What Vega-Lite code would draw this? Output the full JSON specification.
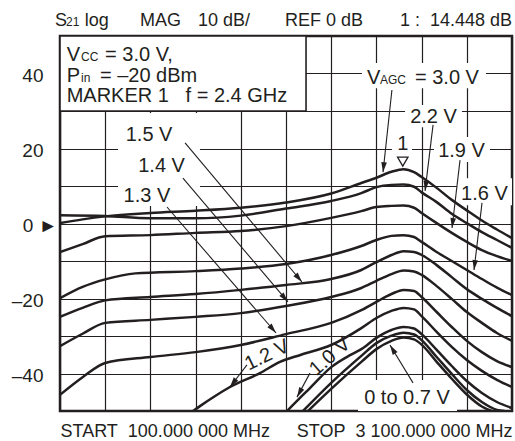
{
  "$schema": "https://vega.github.io/schema/vega-lite/v6.json",
  "width": 452,
  "height": 375,
  "autosize": {"type": "none"},
  "padding": {"left": 60, "top": 36, "right": 3, "bottom": 30},
  "background": "white",
  "config": {
    "font": "Liberation Sans",
    "view": {"stroke": "#231f20", "strokeWidth": 2.5},
    "axis": {"gridColor": "#231f20", "gridWidth": 1.2, "gridOpacity": 1, "labelColor": "#231f20", "domain": false, "ticks": false, "title": null}
  },
  "datasets": {
    "curves": [
      {"v":"3.0 V","f":100,"db":0.1},{"v":"3.0 V","f":250,"db":1.1},{"v":"3.0 V","f":400,"db":1.9},{"v":"3.0 V","f":700,"db":2.8},{"v":"3.0 V","f":1000,"db":3.4},{"v":"3.0 V","f":1300,"db":4.2},{"v":"3.0 V","f":1600,"db":5.6},{"v":"3.0 V","f":1900,"db":8.0},{"v":"3.0 V","f":2100,"db":10.8},{"v":"3.0 V","f":2200,"db":12.2},{"v":"3.0 V","f":2300,"db":13.8},{"v":"3.0 V","f":2380,"db":14.5},{"v":"3.0 V","f":2450,"db":13.7},{"v":"3.0 V","f":2500,"db":12.4},{"v":"3.0 V","f":2600,"db":9.5},{"v":"3.0 V","f":2700,"db":6.3},{"v":"3.0 V","f":2800,"db":3.5},{"v":"3.0 V","f":2900,"db":0.8},{"v":"3.0 V","f":3000,"db":-1.6},{"v":"3.0 V","f":3100,"db":-3.9},
      {"v":"2.2 V","f":100,"db":2.2},{"v":"2.2 V","f":400,"db":2.0},{"v":"2.2 V","f":700,"db":1.4},{"v":"2.2 V","f":1000,"db":1.4},{"v":"2.2 V","f":1300,"db":2.1},{"v":"2.2 V","f":1600,"db":4.0},{"v":"2.2 V","f":1900,"db":6.0},{"v":"2.2 V","f":2100,"db":8.1},{"v":"2.2 V","f":2200,"db":9.7},{"v":"2.2 V","f":2300,"db":10.3},{"v":"2.2 V","f":2380,"db":10.4},{"v":"2.2 V","f":2450,"db":9.8},{"v":"2.2 V","f":2500,"db":8.3},{"v":"2.2 V","f":2600,"db":5.7},{"v":"2.2 V","f":2700,"db":2.6},{"v":"2.2 V","f":2800,"db":0.1},{"v":"2.2 V","f":2900,"db":-2.3},{"v":"2.2 V","f":3000,"db":-4.4},{"v":"2.2 V","f":3100,"db":-6.5},
      {"v":"1.9 V","f":100,"db":-7.6},{"v":"1.9 V","f":250,"db":-5.5},{"v":"1.9 V","f":400,"db":-3.4},{"v":"1.9 V","f":700,"db":-3.1},{"v":"1.9 V","f":1000,"db":-2.5},{"v":"1.9 V","f":1300,"db":-2.0},{"v":"1.9 V","f":1600,"db":-0.7},{"v":"1.9 V","f":1900,"db":1.5},{"v":"1.9 V","f":2100,"db":3.3},{"v":"1.9 V","f":2200,"db":4.4},{"v":"1.9 V","f":2300,"db":4.7},{"v":"1.9 V","f":2380,"db":4.8},{"v":"1.9 V","f":2450,"db":4.2},{"v":"1.9 V","f":2500,"db":2.8},{"v":"1.9 V","f":2600,"db":0.1},{"v":"1.9 V","f":2700,"db":-2.5},{"v":"1.9 V","f":2800,"db":-4.9},{"v":"1.9 V","f":2900,"db":-7.1},{"v":"1.9 V","f":3000,"db":-8.7},{"v":"1.9 V","f":3100,"db":-10.0},
      {"v":"1.6 V","f":100,"db":-19.9},{"v":"1.6 V","f":250,"db":-16.9},{"v":"1.6 V","f":400,"db":-14.9},{"v":"1.6 V","f":600,"db":-13.3},{"v":"1.6 V","f":1000,"db":-12.7},{"v":"1.6 V","f":1300,"db":-12.0},{"v":"1.6 V","f":1600,"db":-10.8},{"v":"1.6 V","f":1900,"db":-8.4},{"v":"1.6 V","f":2100,"db":-6.0},{"v":"1.6 V","f":2200,"db":-4.4},{"v":"1.6 V","f":2300,"db":-3.3},{"v":"1.6 V","f":2380,"db":-3.1},{"v":"1.6 V","f":2450,"db":-3.6},{"v":"1.6 V","f":2500,"db":-4.9},{"v":"1.6 V","f":2600,"db":-7.6},{"v":"1.6 V","f":2700,"db":-10.0},{"v":"1.6 V","f":2800,"db":-12.4},{"v":"1.6 V","f":2900,"db":-14.8},{"v":"1.6 V","f":3000,"db":-17.1},{"v":"1.6 V","f":3100,"db":-19.1},
      {"v":"1.5 V","f":100,"db":-24.9},{"v":"1.5 V","f":250,"db":-22.5},{"v":"1.5 V","f":400,"db":-20.5},{"v":"1.5 V","f":700,"db":-19.6},{"v":"1.5 V","f":1000,"db":-18.8},{"v":"1.5 V","f":1300,"db":-17.7},{"v":"1.5 V","f":1600,"db":-16.4},{"v":"1.5 V","f":1900,"db":-14.8},{"v":"1.5 V","f":2100,"db":-12.4},{"v":"1.5 V","f":2200,"db":-10.3},{"v":"1.5 V","f":2300,"db":-8.4},{"v":"1.5 V","f":2380,"db":-7.4},{"v":"1.5 V","f":2450,"db":-7.6},{"v":"1.5 V","f":2500,"db":-8.4},{"v":"1.5 V","f":2600,"db":-11.1},{"v":"1.5 V","f":2700,"db":-14.3},{"v":"1.5 V","f":2800,"db":-17.5},{"v":"1.5 V","f":2900,"db":-20.1},{"v":"1.5 V","f":3000,"db":-22.5},{"v":"1.5 V","f":3100,"db":-24.7},
      {"v":"1.4 V","f":100,"db":-32.7},{"v":"1.4 V","f":250,"db":-29.4},{"v":"1.4 V","f":400,"db":-26.5},{"v":"1.4 V","f":700,"db":-25.7},{"v":"1.4 V","f":1000,"db":-24.9},{"v":"1.4 V","f":1300,"db":-23.9},{"v":"1.4 V","f":1600,"db":-22.0},{"v":"1.4 V","f":1900,"db":-19.6},{"v":"1.4 V","f":2100,"db":-17.2},{"v":"1.4 V","f":2200,"db":-15.3},{"v":"1.4 V","f":2300,"db":-13.5},{"v":"1.4 V","f":2380,"db":-12.5},{"v":"1.4 V","f":2450,"db":-12.8},{"v":"1.4 V","f":2500,"db":-13.7},{"v":"1.4 V","f":2600,"db":-16.7},{"v":"1.4 V","f":2700,"db":-20.1},{"v":"1.4 V","f":2800,"db":-23.6},{"v":"1.4 V","f":2900,"db":-26.5},{"v":"1.4 V","f":3000,"db":-29.2},{"v":"1.4 V","f":3100,"db":-31.3},
      {"v":"1.3 V","f":100,"db":-45.7},{"v":"1.3 V","f":250,"db":-41.0},{"v":"1.3 V","f":400,"db":-37.2},{"v":"1.3 V","f":700,"db":-35.6},{"v":"1.3 V","f":1000,"db":-34.3},{"v":"1.3 V","f":1300,"db":-32.4},{"v":"1.3 V","f":1600,"db":-29.5},{"v":"1.3 V","f":1900,"db":-26.5},{"v":"1.3 V","f":2100,"db":-23.1},{"v":"1.3 V","f":2200,"db":-20.9},{"v":"1.3 V","f":2300,"db":-18.8},{"v":"1.3 V","f":2380,"db":-17.7},{"v":"1.3 V","f":2450,"db":-18.0},{"v":"1.3 V","f":2500,"db":-19.6},{"v":"1.3 V","f":2600,"db":-23.6},{"v":"1.3 V","f":2700,"db":-27.6},{"v":"1.3 V","f":2800,"db":-31.3},{"v":"1.3 V","f":2900,"db":-34.3},{"v":"1.3 V","f":3000,"db":-36.7},{"v":"1.3 V","f":3100,"db":-38.3},
      {"v":"1.2 V","f":983,"db":-50},{"v":"1.2 V","f":1029,"db":-48.7},{"v":"1.2 V","f":1130,"db":-46.0},{"v":"1.2 V","f":1228,"db":-43.6},{"v":"1.2 V","f":1427,"db":-39.9},{"v":"1.2 V","f":1560,"db":-36.9},{"v":"1.2 V","f":1700,"db":-35.0},{"v":"1.2 V","f":1900,"db":-32.4},{"v":"1.2 V","f":2100,"db":-27.9},{"v":"1.2 V","f":2200,"db":-25.2},{"v":"1.2 V","f":2300,"db":-23.3},{"v":"1.2 V","f":2380,"db":-22.5},{"v":"1.2 V","f":2450,"db":-22.9},{"v":"1.2 V","f":2500,"db":-24.7},{"v":"1.2 V","f":2600,"db":-28.9},{"v":"1.2 V","f":2700,"db":-32.9},{"v":"1.2 V","f":2800,"db":-36.4},{"v":"1.2 V","f":2900,"db":-39.3},{"v":"1.2 V","f":3000,"db":-41.7},{"v":"1.2 V","f":3100,"db":-43.6},
      {"v":"1.0 V","f":1607,"db":-50},{"v":"1.0 V","f":1673,"db":-47.3},{"v":"1.0 V","f":1759,"db":-43.9},{"v":"1.0 V","f":1900,"db":-38.3},{"v":"1.0 V","f":2025,"db":-35.1},{"v":"1.0 V","f":2100,"db":-33.5},{"v":"1.0 V","f":2200,"db":-30.5},{"v":"1.0 V","f":2300,"db":-28.4},{"v":"1.0 V","f":2380,"db":-27.6},{"v":"1.0 V","f":2450,"db":-28.0},{"v":"1.0 V","f":2500,"db":-29.5},{"v":"1.0 V","f":2600,"db":-33.7},{"v":"1.0 V","f":2700,"db":-38.0},{"v":"1.0 V","f":2800,"db":-42.0},{"v":"1.0 V","f":2900,"db":-45.2},{"v":"1.0 V","f":3000,"db":-47.6},{"v":"1.0 V","f":3100,"db":-49.2},
      {"v":"0.7 V","f":1713,"db":-50},{"v":"0.7 V","f":1900,"db":-42.5},{"v":"0.7 V","f":2100,"db":-35.3},{"v":"0.7 V","f":2200,"db":-31.9},{"v":"0.7 V","f":2300,"db":-29.9},{"v":"0.7 V","f":2380,"db":-29.1},{"v":"0.7 V","f":2450,"db":-29.6},{"v":"0.7 V","f":2500,"db":-31.1},{"v":"0.7 V","f":2600,"db":-35.6},{"v":"0.7 V","f":2700,"db":-40.1},{"v":"0.7 V","f":2800,"db":-44.4},{"v":"0.7 V","f":2900,"db":-47.6},{"v":"0.7 V","f":3000,"db":-49.7},{"v":"0.7 V","f":3050,"db":-50},
      {"v":"0 V","f":1746,"db":-50},{"v":"0 V","f":1900,"db":-44.1},{"v":"0 V","f":2100,"db":-36.9},{"v":"0 V","f":2200,"db":-33.5},{"v":"0 V","f":2300,"db":-31.3},{"v":"0 V","f":2380,"db":-30.4},{"v":"0 V","f":2450,"db":-30.9},{"v":"0 V","f":2500,"db":-32.3},{"v":"0 V","f":2600,"db":-36.9},{"v":"0 V","f":2700,"db":-41.4},{"v":"0 V","f":2800,"db":-45.6},{"v":"0 V","f":2900,"db":-48.8},{"v":"0 V","f":2966,"db":-50}
    ],
    "bgs": [
      {"f":2104,"f2":2927,"db":36.1,"db2":42.8},
      {"f":2390,"f2":2768,"db":25.7,"db2":31.6},
      {"f":2582,"f2":2954,"db":16.4,"db2":23.1},
      {"f":2735,"f2":3100,"db":4.9,"db2":12.1},
      {"f":485,"f2":1029,"db":4.7,"db2":29.5},
      {"f":2303,"f2":2436,"db":17.2,"db2":23.1},
      {"f":2078,"f2":2735,"db":-50,"db2":-41.7}
    ],
    "box": [{"f":100,"f2":1733,"db":30,"db2":50}],
    "arrows": [
      {"f":2303,"db":35.6,"f2":2244,"db2":13.7},
      {"f":2576,"db":26.3,"f2":2523,"db2":8.7},
      {"f":2755,"db":16.9,"f2":2702,"db2":-1.2},
      {"f":2901,"db":5.5,"f2":2848,"db2":-12.4},
      {"f":930,"db":21.5,"f2":1706,"db2":-15.6},
      {"f":916,"db":12.1,"f2":1613,"db2":-20.9},
      {"f":810,"db":4.4,"f2":1534,"db2":-29.2},
      {"f":1341,"db":-37.7,"f2":1228,"db2":-43.6},
      {"f":1759,"db":-39.9,"f2":1673,"db2":-46.3},
      {"f":2443,"db":-42.5,"f2":2290,"db2":-32.4}
    ],
    "labels": [
      {"text":"2.2 V","f":2579,"db":26.8},
      {"text":"1.9 V","f":2765,"db":17.7},
      {"text":"1.6 V","f":2917,"db":6.3},
      {"text":"1.5 V","f":691,"db":22.0},
      {"text":"1.4 V","f":774,"db":13.7},
      {"text":"1.3 V","f":677,"db":5.7},
      {"text":"0 to 0.7 V","f":2403,"db":-48.1},
      {"text":"1","f":2375,"db":19.6}
    ],
    "pieces": [
      {"text":"V","kind":"main","f":144,"db":43.4},
      {"text":"CC","kind":"sub","f":240,"db":43.4},
      {"text":"= 3.0 V,","kind":"main","f":399,"db":43.4},
      {"text":"P","kind":"main","f":144,"db":37.7},
      {"text":"in","kind":"sub","f":240,"db":37.7},
      {"text":"= –20 dBm","kind":"main","f":365,"db":37.7},
      {"text":"MARKER 1\u00a0\u00a0\u00a0f = 2.4 GHz","kind":"main","f":144,"db":32.4},
      {"text":"V","kind":"main","f":2138,"db":37.2},
      {"text":"AGC","kind":"sub","f":2224,"db":37.2},
      {"text":"= 3.0 V","kind":"main","f":2456,"db":37.2},
      {"text":"S","kind":"head","f":67,"db":52.7},
      {"text":"21","kind":"sub","f":140,"db":52.7},
      {"text":"log","kind":"head","f":265,"db":52.7},
      {"text":"MAG","kind":"head","f":631,"db":52.7},
      {"text":"10 dB/","kind":"head","f":1016,"db":52.7},
      {"text":"REF 0 dB","kind":"head","f":1593,"db":52.7},
      {"text":"1 :","kind":"head","f":2357,"db":52.7},
      {"text":"14.448 dB","kind":"head","f":2556,"db":52.7}
    ],
    "marker": [{"f":2375,"db":16.5}]
  },
  "encoding": {
    "x": {
      "field": "f", "type": "quantitative",
      "scale": {"domain": [100, 3100], "nice": false, "zero": false},
      "axis": {
        "values": [100, 400, 700, 1000, 1300, 1600, 1900, 2200, 2500, 2800, 3100],
        "grid": true,
        "labelExpr": "datum.value == 100 ? 'START\u00a0\u00a0100.000 000 MHz' : (datum.value == 3100 ? 'STOP\u00a0\u00a03 100.000 000 MHz' : '')",
        "labelAlign": {"condition": {"test": "datum.value <= 100", "value": "left"}, "value": "right"},
        "labelBaseline": "top",
        "labelFontSize": 18,
        "labelPadding": 11,
        "labelLimit": 0,
        "labelOverlap": false,
        "labelBound": false,
        "labelFlush": false
      }
    },
    "y": {
      "field": "db", "type": "quantitative",
      "scale": {"domain": [-50, 50], "nice": false, "zero": false},
      "axis": {
        "values": [-50, -40, -30, -20, -10, 0, 10, 20, 30, 40, 50],
        "grid": true,
        "labelExpr": "datum.value == 0 ? '0 ►' : (datum.value % 20 == 0 ? (datum.value < 0 ? '–' + abs(datum.value) : '' + datum.value) : '')",
        "labelFontSize": 19,
        "labelPadding": {"condition": {"test": "datum.value == 0", "value": 3}, "value": 17},
        "labelBaseline": "middle",
        "labelOffset": 2,
        "labelOverlap": false,
        "labelBound": false,
        "labelFlush": false
      }
    }
  },
  "layer": [
    {
      "data": {"name": "bgs"},
      "mark": {"type": "rect", "fill": "white", "strokeWidth": 0},
      "encoding": {"x2": {"field": "f2"}, "y2": {"field": "db2"}}
    },
    {
      "data": {"name": "box"},
      "mark": {"type": "rect", "fill": "white", "stroke": "#231f20", "strokeWidth": 1.6},
      "encoding": {"x2": {"field": "f2"}, "y2": {"field": "db2"}}
    },
    {
      "data": {"name": "curves"},
      "mark": {"type": "line", "color": "#231f20", "strokeWidth": 2.5, "interpolate": "monotone", "clip": true},
      "encoding": {"detail": {"field": "v", "type": "nominal"}}
    },
    {
      "data": {"name": "arrows"},
      "mark": {"type": "rule", "color": "#231f20", "strokeWidth": 1.1},
      "encoding": {"x2": {"field": "f2"}, "y2": {"field": "db2"}}
    },
    {
      "data": {"name": "arrows"},
      "transform": [
        {"calculate": "(atan2((datum.f2 - datum.f) * 452 / 3000, (datum.db2 - datum.db) * 3.75) * 180 / PI + 360) % 360", "as": "heading"}
      ],
      "mark": {"type": "point", "shape": "M0,0L-0.28,1L0.28,1Z", "filled": true, "fill": "#231f20", "strokeWidth": 0, "size": 400, "opacity": 1},
      "encoding": {
        "x": {"field": "f2", "type": "quantitative"},
        "y": {"field": "db2", "type": "quantitative"},
        "angle": {"field": "heading", "type": "quantitative", "scale": null}
      }
    },
    {
      "data": {"name": "labels"},
      "mark": {"type": "text", "fontSize": 20, "align": "center", "baseline": "alphabetic", "color": "#231f20"},
      "encoding": {"text": {"field": "text"}}
    },
    {
      "data": {"name": "pieces"},
      "transform": [{"filter": "datum.kind == 'main'"}],
      "mark": {"type": "text", "fontSize": 20, "align": "left", "baseline": "alphabetic", "color": "#231f20"},
      "encoding": {"text": {"field": "text"}}
    },
    {
      "data": {"name": "pieces"},
      "transform": [{"filter": "datum.kind == 'sub'"}],
      "mark": {"type": "text", "fontSize": 12, "align": "left", "baseline": "alphabetic", "color": "#231f20"},
      "encoding": {"text": {"field": "text"}}
    },
    {
      "data": {"name": "pieces"},
      "transform": [{"filter": "datum.kind == 'head'"}],
      "mark": {"type": "text", "fontSize": 18, "align": "left", "baseline": "alphabetic", "color": "#231f20"},
      "encoding": {"text": {"field": "text"}}
    },
    {
      "data": {"values": [{"text": "1.2 V", "f": 1474, "db": -35.1}]},
      "mark": {"type": "text", "fontSize": 20, "align": "center", "baseline": "middle", "angle": 334, "color": "#231f20"},
      "encoding": {"text": {"field": "text"}}
    },
    {
      "data": {"values": [{"text": "1.0 V", "f": 1892, "db": -35.5}]},
      "mark": {"type": "text", "fontSize": 20, "align": "center", "baseline": "middle", "angle": 319, "color": "#231f20"},
      "encoding": {"text": {"field": "text"}}
    },
    {
      "data": {"name": "marker"},
      "mark": {"type": "point", "shape": "triangle-down", "filled": false, "stroke": "#231f20", "strokeWidth": 1.3, "size": 110, "opacity": 1},
      "encoding": {}
    }
  ]
}
